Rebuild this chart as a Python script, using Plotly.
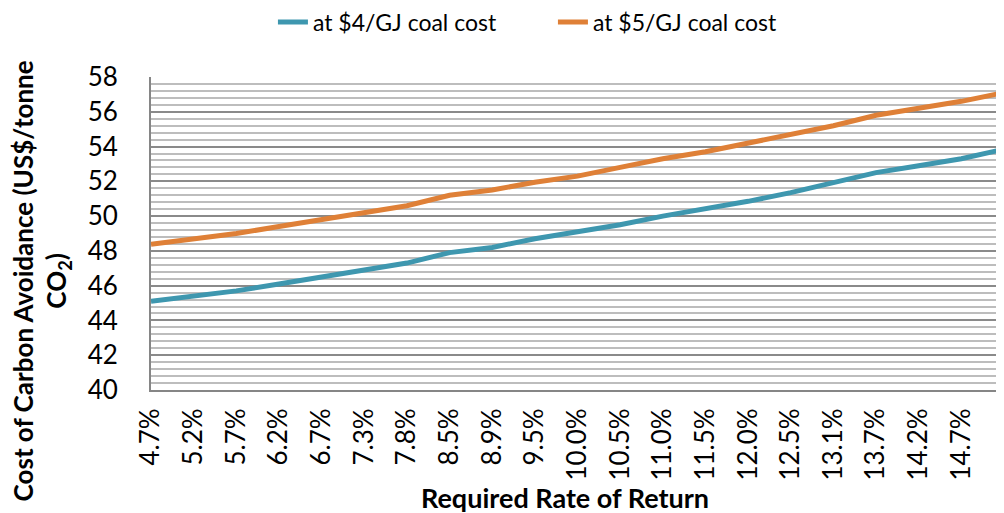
import plotly.graph_objects as go

# required rate of return categories (last one unlabeled in the picture)
rates = ["4.7%", "5.2%", "5.7%", "6.2%", "6.7%", "7.3%", "7.8%", "8.5%", "8.9%", "9.5%",
         "10.0%", "10.5%", "11.0%", "11.5%", "12.0%", "12.5%", "13.1%", "13.7%", "14.2%", "14.7%",
         "15.2%"]
tick_labels = rates[:20]

# cost of carbon avoidance (US$/tonne CO2)
cost_4 = [45.1, 45.4, 45.7, 46.1, 46.5, 46.95, 47.3, 47.9, 48.2, 48.7,
          49.1, 49.5, 50.0, 50.4, 50.85, 51.35, 51.9, 52.5, 52.9, 53.3,
          53.85]
cost_5 = [48.38, 48.7, 49.0, 49.4, 49.8, 50.2, 50.6, 51.2, 51.5, 51.95,
          52.3, 52.8, 53.3, 53.7, 54.2, 54.7, 55.2, 55.8, 56.2, 56.6,
          57.1]

FONT = "Lato"
BLUE = "#3E97AF"
ORANGE = "#DF8037"

fig = go.Figure()
fig.add_trace(go.Scatter(x=rates, y=cost_4, mode="lines", name="at $4/GJ coal cost",
                         line=dict(color=BLUE, width=5)))
fig.add_trace(go.Scatter(x=rates, y=cost_5, mode="lines", name="at $5/GJ coal cost",
                         line=dict(color=ORANGE, width=5)))

# page body has an 8px default margin, so the figure is 8px smaller than the window
fig.update_layout(
    width=996, height=505,
    margin=dict(l=143, r=0, t=69, b=123, autoexpand=False),
    paper_bgcolor="white", plot_bgcolor="white",
    font=dict(family=FONT, size=24, color="black"),
    showlegend=True,
    legend=dict(orientation="h", xref="container", yref="container",
                x=0.266, xanchor="left", y=0.972, yanchor="middle",
                font=dict(size=23), entrywidth=235, entrywidthmode="pixels",
                tracegroupgap=0),
    annotations=[
        dict(text="<b>Required Rate of Return</b>", xref="paper", yref="paper",
             x=0.485, y=-0.343, xanchor="center", yanchor="middle",
             showarrow=False, font=dict(size=27)),
        dict(text="<b>Cost of Carbon Avoidance (US$/tonne<br>CO<sub>2</sub>)</b>",
             xref="paper", yref="paper", x=-0.129, y=0.35, xanchor="center", yanchor="middle",
             textangle=-90, showarrow=False, font=dict(size=26)),
    ],
)

fig.update_xaxes(
    type="category", categoryorder="array", categoryarray=rates, automargin=False,
    range=[0, 20], tickmode="array", tickvals=tick_labels, ticktext=tick_labels,
    tickangle=-90, showgrid=False, showline=True, linecolor="#868686", linewidth=2,
    ticks="", ticklabelstandoff=6, tickfont=dict(size=26),
)
fig.update_yaxes(
    range=[40, 58], dtick=2, tick0=40, automargin=False,
    showgrid=True, gridcolor="#8a8a8a", gridwidth=1.5,
    minor=dict(dtick=0.4, tick0=40, showgrid=True, gridcolor="#bdbdbd", gridwidth=1.5),
    showline=True, linecolor="#868686", linewidth=2, ticks="", ticklabelstandoff=26,
    tickfont=dict(size=26), zeroline=False,
)

fig.write_html("out.html")
